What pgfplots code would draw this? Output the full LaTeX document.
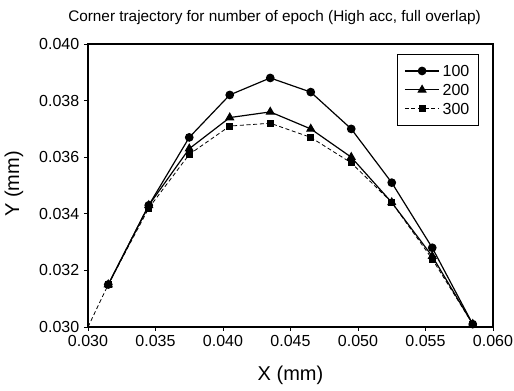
\documentclass[border=0pt]{standalone}
\usepackage{fontspec}
\setmainfont{Liberation Sans}
\usepackage{pgfplots}
\pgfplotsset{compat=1.18}
\begin{document}
\begin{tikzpicture}
\begin{axis}[
  scale only axis, width=303.75pt, height=212.25pt,
  xmin=0.030, xmax=0.060, ymin=0.030, ymax=0.040,
  xtick={0.030,0.035,0.040,0.045,0.050,0.055,0.060},
  ytick={0.030,0.032,0.034,0.036,0.038,0.040},
  scaled ticks=false,
  /pgf/number format/assume math mode=true,
  xticklabel style={/pgf/number format/.cd, fixed, fixed zerofill, precision=3},
  yticklabel style={/pgf/number format/.cd, fixed, fixed zerofill, precision=3},
  tick label style={font=\fontsize{12}{14}\selectfont},
  tick align=outside, major tick length=3pt, tick pos=left,
  axis line style={line width=0.9pt},
  tick style={line width=0.7pt, black},
  title={Corner trajectory for number of epoch (High acc, full overlap)},
  title style={font=\fontsize{11.5}{13}\selectfont, at={([xshift=-12pt,yshift=10.5pt]axis description cs:0.5,1)}, anchor=base},
  xlabel={X (mm)}, ylabel={Y (mm)},
  label style={font=\fontsize{15}{18}\selectfont},
  xlabel style={at={([yshift=-36pt]axis description cs:0.5,0)}, anchor=center},
  ylabel style={at={([xshift=-55.5pt]axis description cs:0,0.505)}, anchor=center},
  legend style={at={(0.9654,0.965)}, anchor=north east, font=\fontsize{12}{14}\selectfont,
    draw=black, inner xsep=5pt, inner ysep=5.5pt,
    nodes={text height=8.6pt, text depth=0pt, inner ysep=2.8pt}},
  legend cell align=left,
  legend image code/.code={\draw[mark repeat=2,mark phase=2] plot coordinates {(0pt,0pt)(13pt,0pt)(26pt,0pt)};},
]
\addplot[black, line width=0.9pt, mark=*, mark size=2.8pt] coordinates {
(0.0315,0.0315)(0.0345,0.0343)(0.0375,0.0367)(0.0405,0.0382)(0.0435,0.0388)(0.0465,0.0383)(0.0495,0.0370)(0.0525,0.0351)(0.0555,0.0328)(0.0585,0.0301)};
\addlegendentry{100}
\addplot[black, line width=0.9pt, mark=triangle*, mark size=3.2pt] coordinates {
(0.0315,0.0315)(0.0345,0.0343)(0.0375,0.0363)(0.0405,0.0374)(0.0435,0.0376)(0.0465,0.0370)(0.0495,0.0360)(0.0525,0.0344)(0.0555,0.0325)(0.0585,0.0301)};
\addlegendentry{200}
\addplot[black, line width=0.6pt, densely dashed, mark=square*, mark size=2.2pt, mark options={solid}] coordinates {
(0.0315,0.0315)(0.0345,0.0342)(0.0375,0.0361)(0.0405,0.0371)(0.0435,0.0372)(0.0465,0.0367)(0.0495,0.0358)(0.0525,0.0344)(0.0555,0.0324)(0.0585,0.0301)};
\addlegendentry{300}
\addplot[black, line width=0.6pt, densely dashed, no marks, forget plot] coordinates {(0.0300,0.0300)(0.0315,0.0315)};
\end{axis}
\pgfresetboundingbox
\path (-66pt,-48pt) rectangle (319.5pt,245.25pt);
\end{tikzpicture}
\end{document}
